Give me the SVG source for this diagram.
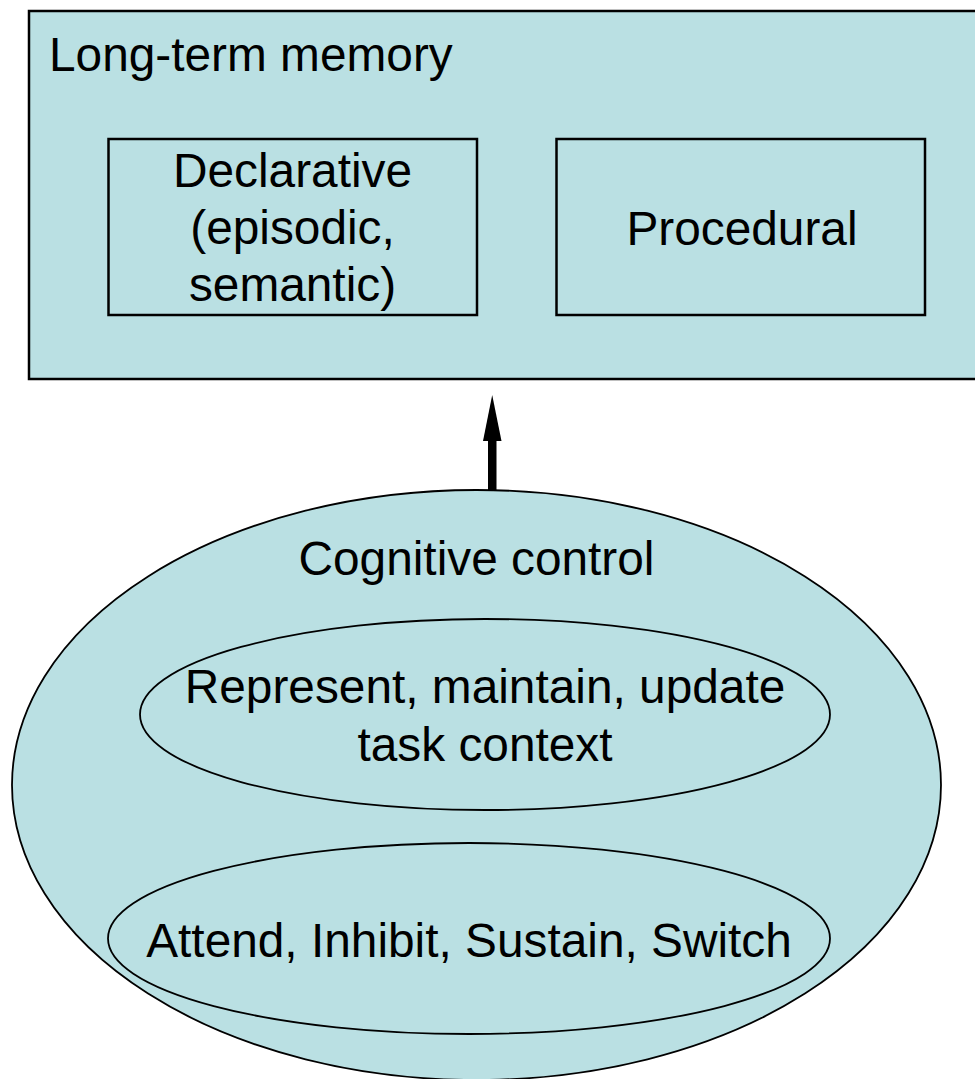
<svg xmlns="http://www.w3.org/2000/svg" width="975" height="1079" viewBox="0 0 975 1079">
<style>
.box{fill:#BAE0E3;stroke:#000;stroke-width:2.5}
.ell{fill:#BAE0E3;stroke:#000;stroke-width:1.8}
text{font-family:"Liberation Sans",Arial,sans-serif;font-size:47.8px;fill:#000}
.c{text-anchor:middle}
</style>
<rect width="975" height="1079" fill="#fff"/>
<g id="ltm">
<rect class="box" x="29" y="11" width="960" height="368"/>
<text x="49" y="71">Long-term memory</text>
</g>
<g id="declarative">
<rect class="box" x="108.5" y="139" width="368.5" height="176"/>
<text class="c" x="292.5" y="187">Declarative</text>
<text class="c" x="292.5" y="244">(episodic,</text>
<text class="c" x="292.5" y="301">semantic)</text>
</g>
<g id="procedural">
<rect class="box" x="556.5" y="139" width="368.5" height="176"/>
<text class="c" x="742" y="245">Procedural</text>
</g>
<g id="cognitive">
<ellipse class="ell" cx="476.5" cy="785" rx="464.5" ry="295"/>
<text class="c" x="476.5" y="575">Cognitive control</text>
</g>
<g id="represent">
<ellipse class="ell" cx="485" cy="714.5" rx="345" ry="95.5"/>
<text class="c" x="485" y="703">Represent, maintain, update</text>
<text class="c" x="485" y="761">task context</text>
</g>
<g id="attend">
<ellipse class="ell" cx="469" cy="938.5" rx="361" ry="95.5"/>
<text class="c" x="469" y="957">Attend, Inhibit, Sustain, Switch</text>
</g>
<g id="connectors">
<rect x="488" y="440" width="8.5" height="51" fill="#000"/>
<polygon points="492.2,395 483,441 501.5,441" fill="#000"/>
</g>
</svg>
